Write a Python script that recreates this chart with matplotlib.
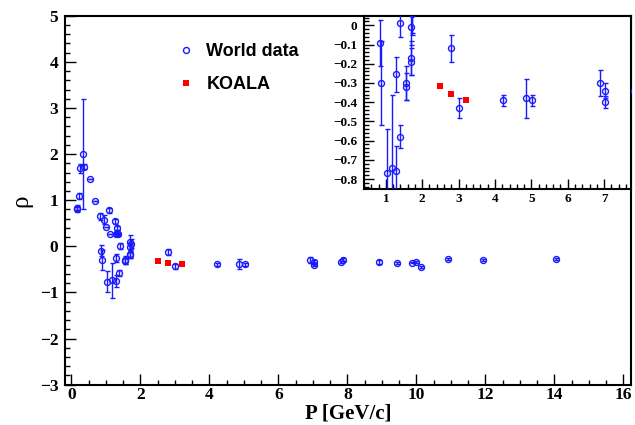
import matplotlib
matplotlib.use("Agg")
import matplotlib.pyplot as plt
from matplotlib.ticker import MultipleLocator, FuncFormatter
from matplotlib.lines import Line2D

# World data: momentum, rho, error
world_p = [0.15, 0.17, 0.22, 0.26, 0.32, 0.37, 0.55, 0.67, 0.84, 0.85, 0.87, 0.94, 1.00, 1.04,
           1.09, 1.11, 1.17, 1.26, 1.28, 1.29, 1.30, 1.32, 1.33, 1.36, 1.40, 1.39, 1.55, 1.55,
           1.69, 1.69, 1.70, 1.71, 1.72, 2.80, 3.01, 4.21, 4.86, 5.02, 6.90, 7.02, 7.02, 7.81,
           7.86, 8.90, 9.43, 9.86, 10.00, 10.12, 10.91, 11.94, 14.03]
world_rho = [0.80, 0.84, 1.09, 1.69, 2.00, 1.73, 1.46, 0.99, 0.65, -0.09, -0.30, 0.58, 0.42, -0.77,
             0.78, 0.26, -0.74, 0.54, -0.76, -0.255, 0.27, 0.40, 0.30, 0.26, 0.01, -0.58, -0.30, -0.32,
             -0.17, -0.19, -0.01, 0.10, 0.06, -0.12, -0.43, -0.39, -0.38, -0.39, -0.30, -0.34, -0.40, -0.34,
             -0.29, -0.34, -0.36, -0.35, -0.33, -0.44, -0.27, -0.30, -0.28]
world_err = [0.05, 0.05, 0.07, 0.10, 1.20, 0.05, 0.0, 0.0, 0.08, 0.12, 0.22, 0.10, 0.0, 0.23,
             0.06, 0.0, 0.38, 0.05, 0.13, 0.09, 0.05, 0.05, 0.05, 0.04, 0.07, 0.06, 0.09, 0.07,
             0.09, 0.07, 0.09, 0.15, 0.10, 0.07, 0.05, 0.03, 0.10, 0.03, 0.07, 0.04, 0.03, 0.02,
             0.03, 0.05, 0.02, 0.02, 0.02, 0.02, 0.02, 0.02, 0.02]

# KOALA
koala_p = [2.5, 2.8, 3.2]
koala_rho = [-0.315, -0.355, -0.39]

BLUE = "#1a1aff"
RED = "#ff0000"
serif = "Liberation Serif"
sans = "Liberation Sans"


def fmt_int(v, pos):
    s = "%g" % round(v, 6)
    return s.replace("-", "\u2212")


def fmt_dec(v, pos):
    if abs(v) < 1e-9:
        return "0"
    return ("%.1f" % v).replace("-", "\u2212")


fig = plt.figure(figsize=(6.35, 4.25), dpi=100)
ax = fig.add_axes([0.1028, 0.0948, 0.891, 0.868])

ax.errorbar(world_p, world_rho, yerr=world_err, fmt="o", color=BLUE, mfc="none", mec=BLUE,
            ms=4.3, mew=1.0, elinewidth=1.0, capsize=1.8, capthick=1.0, zorder=3)
ax.plot(koala_p, koala_rho, "s", color=RED, ms=3.8, mew=0, zorder=4)

ax.set_xlim(-0.18, 16.22)
ax.set_ylim(-3, 5)
ax.xaxis.set_major_locator(MultipleLocator(2))
ax.xaxis.set_minor_locator(MultipleLocator(0.5))
ax.yaxis.set_major_locator(MultipleLocator(1))
ax.yaxis.set_minor_locator(MultipleLocator(0.2))
ax.xaxis.set_major_formatter(FuncFormatter(fmt_int))
ax.yaxis.set_major_formatter(FuncFormatter(fmt_int))
ax.tick_params(which="both", direction="in", top=False, right=False, width=1.0)
ax.tick_params(which="major", length=7.7)
ax.tick_params(which="minor", length=3.8)
ax.tick_params(axis="x", pad=2)
ax.tick_params(axis="y", pad=5)
for lab in ax.get_xticklabels() + ax.get_yticklabels():
    lab.set_fontfamily(serif)
    lab.set_fontweight("bold")
    lab.set_fontsize(12.5)
for s in ax.spines.values():
    s.set_linewidth(1.5)
ax.set_xlabel("P [GeV/c]", fontfamily=serif, fontweight="bold", fontsize=15, labelpad=0)
ax.set_ylabel("\u03c1", fontfamily=serif, fontsize=18, labelpad=5)

handles = [Line2D([], [], marker="o", ls="none", mfc="none", mec=BLUE, ms=4.3, mew=1.0),
           Line2D([], [], marker="s", ls="none", color=RED, ms=3.8, mew=0)]
leg = ax.legend(handles, ["World data", "KOALA"], loc="upper left",
                bbox_to_anchor=(0.165, 0.97), frameon=False, handletextpad=0.55,
                labelspacing=0.9, handlelength=1.2,
                prop={"family": sans, "weight": "bold", "size": 13})

# inset
ins = fig.add_axes([0.5732, 0.556, 0.42, 0.407])
ins.errorbar(world_p, world_rho, yerr=world_err, fmt="o", color=BLUE, mfc="none", mec=BLUE,
             ms=4.3, mew=1.0, elinewidth=1.0, capsize=1.8, capthick=1.0, zorder=3)
ins.plot(koala_p, koala_rho, "s", color=RED, ms=3.8, mew=0, zorder=4)
ins.set_xlim(0.4, 7.73)
ins.set_ylim(-0.85, 0.05)
ins.xaxis.set_major_locator(MultipleLocator(1))
ins.xaxis.set_minor_locator(MultipleLocator(0.2))
ins.yaxis.set_major_locator(MultipleLocator(0.1))
ins.yaxis.set_minor_locator(MultipleLocator(0.02))
ins.xaxis.set_major_formatter(FuncFormatter(fmt_int))
ins.yaxis.set_major_formatter(FuncFormatter(fmt_dec))
ins.tick_params(which="both", direction="in", top=False, right=False, width=1.0)
ins.tick_params(which="major", length=7)
ins.tick_params(which="minor", length=3.5)
ins.tick_params(axis="x", pad=3)
ins.tick_params(axis="y", pad=5)
for lab in ins.get_xticklabels() + ins.get_yticklabels():
    lab.set_fontfamily(serif)
    lab.set_fontweight("bold")
    lab.set_fontsize(9.5)
for s in ins.spines.values():
    s.set_linewidth(1.5)

fig.savefig("out.png", dpi=100)
